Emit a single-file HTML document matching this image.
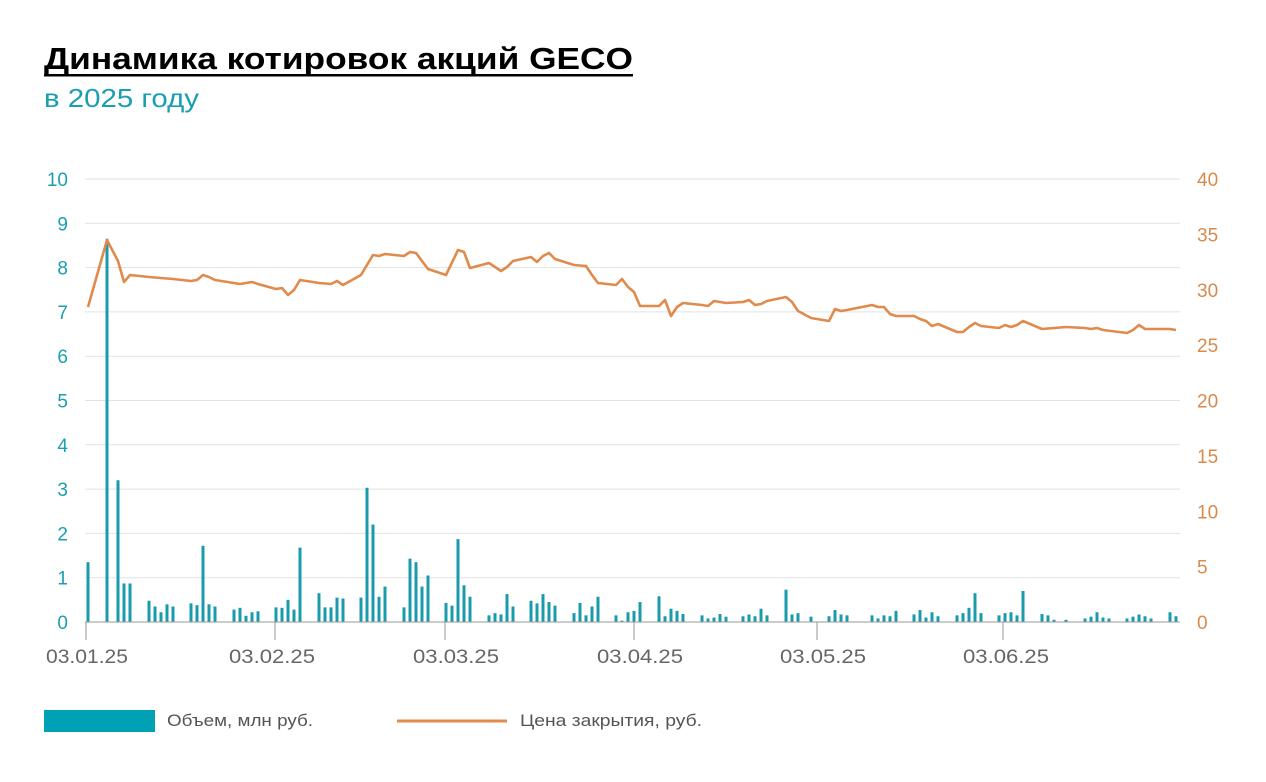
<!DOCTYPE html>
<html><head><meta charset="utf-8"><style>
body{margin:0;background:#fff;width:1266px;height:777px;overflow:hidden;font-family:"Liberation Sans",sans-serif}
</style></head><body>
<svg width="1266" height="777" viewBox="0 0 1266 777" xmlns="http://www.w3.org/2000/svg" id="s">
<text x="44" y="69" font-size="31" font-weight="bold" fill="#000" textLength="589" lengthAdjust="spacingAndGlyphs" font-family="Liberation Sans, sans-serif">Динамика котировок акций GECO</text>
<rect x="44" y="74" width="589" height="2.5" fill="#000"/>
<text x="44" y="107" font-size="26" fill="#1a9fb0" textLength="155" lengthAdjust="spacingAndGlyphs" font-family="Liberation Sans, sans-serif">в 2025 году</text>
<g id="grid"></g>
<g id="bars" fill="#1a9bad"></g>
<polyline id="line" fill="none" stroke="#e08a4c" stroke-width="2.6" stroke-linejoin="round"/>
<line x1="85" y1="622" x2="1180" y2="622" stroke="#999" stroke-width="1"/>
<g stroke="#999" stroke-width="1">
<line x1="86" y1="622" x2="86" y2="640"/><line x1="275" y1="622" x2="275" y2="640"/><line x1="445" y1="622" x2="445" y2="640"/><line x1="634" y1="622" x2="634" y2="640"/><line x1="817" y1="622" x2="817" y2="640"/><line x1="1003" y1="622" x2="1003" y2="640"/>
</g>
<g font-size="19" fill="#666" font-family="Liberation Sans, sans-serif">
<text x="46" y="663" textLength="82" lengthAdjust="spacingAndGlyphs">03.01.25</text>
<text x="229" y="663" textLength="86" lengthAdjust="spacingAndGlyphs">03.02.25</text>
<text x="413" y="663" textLength="86" lengthAdjust="spacingAndGlyphs">03.03.25</text>
<text x="597" y="663" textLength="86" lengthAdjust="spacingAndGlyphs">03.04.25</text>
<text x="780" y="663" textLength="86" lengthAdjust="spacingAndGlyphs">03.05.25</text>
<text x="963" y="663" textLength="86" lengthAdjust="spacingAndGlyphs">03.06.25</text>
</g>
<rect x="44" y="710" width="111" height="22" fill="#00a0b5"/>
<text x="167" y="726" font-size="17" fill="#555" textLength="146" lengthAdjust="spacingAndGlyphs" font-family="Liberation Sans, sans-serif">Объем, млн руб.</text>
<line x1="397" y1="721" x2="507" y2="721" stroke="#e08a4c" stroke-width="3"/>
<text x="520" y="726" font-size="17" fill="#555" textLength="182" lengthAdjust="spacingAndGlyphs" font-family="Liberation Sans, sans-serif">Цена закрытия, руб.</text>
</svg>
<script>
var NS="http://www.w3.org/2000/svg";
var g=document.getElementById('grid');
function el(t,a,p){var e=document.createElementNS(NS,t);for(var k in a)e.setAttribute(k,a[k]);p.appendChild(e);return e;}
for(var i=0;i<=10;i++){var y=622-i*44.3;
 if(i>0)el('line',{x1:85,x2:1180,y1:y,y2:y,stroke:'#e2e2e2','stroke-width':1},g);
 var t=el('text',{x:68,y:y+7,'font-size':19,fill:'#1a9fb0','text-anchor':'end','font-family':'Liberation Sans, sans-serif'},g);t.textContent=i;
}
for(var k=0;k<=8;k++){var y2=622-k*55.375;
 var t2=el('text',{x:1197,y:y2+7,'font-size':19,fill:'#d98a4a','font-family':'Liberation Sans, sans-serif'},g);t2.textContent=k*5;}
var B=[[88,1.35],[107,8.65],[118,3.2],[124,.87],[130,.87],[149,.48],[155,.35],[161,.22],[167,.4],[173,.35],[191,.42],[197,.38],[203,1.72],[209,.4],[215,.35],[234,.28],[240,.32],[246,.14],[252,.22],[258,.24],[276,.33],[282,.32],[288,.5],[294,.28],[300,1.68],[319,.65],[325,.33],[331,.33],[337,.55],[343,.53],[361,.55],[367,3.03],[373,2.2],[379,.57],[385,.8],[404,.33],[410,1.43],[416,1.35],[422,.8],[428,1.05],[446,.43],[452,.37],[458,1.87],[464,.83],[470,.57],[489,.15],[495,.2],[501,.17],[507,.63],[513,.35],[531,.48],[537,.42],[543,.63],[549,.45],[555,.37],[574,.2],[580,.43],[586,.15],[592,.35],[598,.57],[616,.15],[622,.03],[628,.22],[634,.25],[640,.45],[659,.58],[665,.13],[671,.3],[677,.25],[683,.18],[702,.15],[708,.08],[714,.1],[720,.18],[726,.12],[743,.13],[749,.17],[755,.13],[761,.3],[767,.15],[786,.73],[792,.17],[798,.2],[811,.12],[829,.13],[835,.27],[841,.17],[847,.15],[872,.15],[878,.08],[884,.15],[890,.13],[896,.25],[914,.17],[920,.27],[926,.1],[932,.22],[938,.13],[957,.15],[963,.2],[969,.32],[975,.65],[981,.2],[999,.15],[1005,.2],[1011,.22],[1017,.15],[1023,.7],[1042,.18],[1048,.15],[1054,.05],[1066,.05],[1085,.08],[1091,.12],[1097,.22],[1103,.1],[1109,.08],[1127,.08],[1133,.12],[1139,.17],[1145,.13],[1151,.08],[1170,.22],[1176,.13]];
var bg=document.getElementById('bars');
B.forEach(function(b){var h=b[1]*44.3;el('rect',{x:b[0]-1.5,y:622-h,width:3,height:h},bg);});
var L="88,307 107,240 118,261 124,282 130,275 149,277 161,278 173,279 191,281 197,280 203,275 209,277 215,280 234,283 240,284 252,282 258,284 276,289 282,288 288,295 294,290 300,280 319,283 331,284 337,281 343,285 361,275 373,255 379,256 385,254 404,256 410,252 416,253 428,269 446,275 458,250 464,252 470,268 489,263 501,271 507,267 513,261 531,257 537,262 543,256 549,253 555,259 574,265 586,266 592,275 598,283 616,285 622,279 628,287 634,292 640,306 659,306 665,300 671,316 677,307 683,303 702,305 708,306 714,301 720,302 726,303 743,302 749,300 755,305 761,304 767,301 786,297 792,302 798,311 811,318 829,321 835,309 841,311 847,310 872,305 878,307 884,307 890,314 896,316 914,316 920,319 926,321 932,326 938,324 957,332 963,332 969,327 975,323 981,326 999,328 1005,325 1011,327 1017,325 1023,321 1042,329 1054,328 1066,327 1085,328 1091,329 1097,328 1103,330 1127,333 1133,330 1139,325 1145,329 1170,329 1176,330";
document.getElementById('line').setAttribute('points',L);
</script>
</body></html>
